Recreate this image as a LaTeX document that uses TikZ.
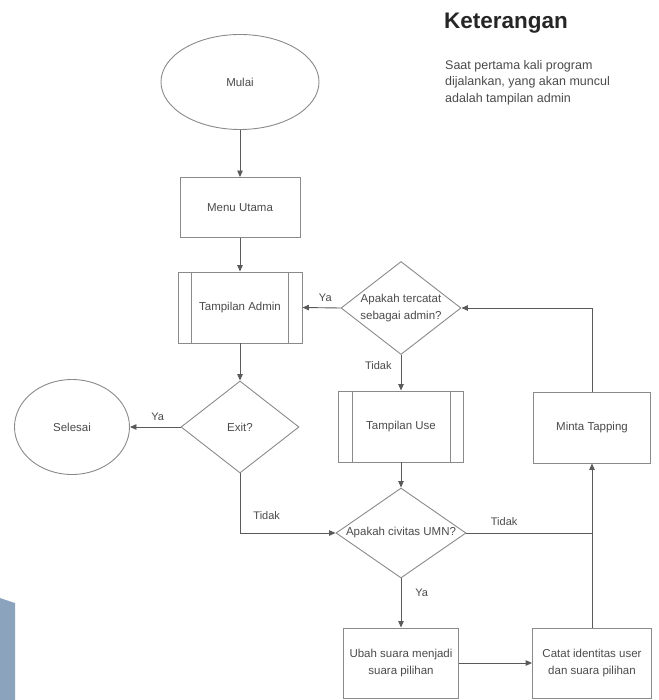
\documentclass[tikz,border=0pt]{standalone}
\usepackage{fontspec}
\setmainfont{Liberation Sans}
\usetikzlibrary{shapes.geometric,arrows.meta,calc}
\definecolor{shapeline}{HTML}{8A8A8A}
\definecolor{arrline}{HTML}{5A5A5A}
\definecolor{txt}{HTML}{4A4A4A}
\definecolor{slideblue}{HTML}{8BA3BC}
\tikzset{
  base/.style={draw=shapeline, line width=0.9pt, align=center, text=txt,
    font=\fontsize{11.5}{16.5}\selectfont, inner sep=1pt},
  proc/.style={base, rectangle, minimum width=#1, minimum height=60pt},
  proc/.default=120pt,
  term/.style={base, ellipse, minimum width=#1, minimum height=95pt},
  dec/.style={base, diamond, inner sep=0pt,
    label={[text=txt, align=center, font=\fontsize{11.5}{16.5}\selectfont, inner sep=0pt]center:#1}},
  arr/.style={draw=arrline, line width=0.9pt, -{Triangle[length=6.5pt,width=5.5pt]}},
  plain/.style={draw=arrline, line width=0.9pt},
  lbl/.style={text=txt, font=\fontsize{11}{12}\selectfont, inner sep=1pt}
}
\begin{document}
\begin{tikzpicture}[x=1pt,y=-1pt]
\useasboundingbox (0,0) rectangle (658,700);
\fill[slideblue] (0,598) -- (15,603) -- (15,700) -- (0,700) -- cycle;

% title
\node[anchor=west, font=\fontsize{22.5}{26}\selectfont\bfseries, text=black!85, inner sep=0] (title) at (444,23) {Keterangan};
\node[anchor=north west, align=left, font=\fontsize{12.5}{16.5}\selectfont, text=txt, inner sep=0] (desc) at (445,60)
  {Saat pertama kali program\\dijalankan, yang akan muncul\\adalah tampilan admin};

% nodes
\node[term=158pt] (mulai) at (240,82) {Mulai};
\node[proc] (menu) at (240,207.5) {Menu Utama};
\node[proc=124pt, minimum height=71pt] (tadmin) at (240,307.5) {Tampilan Admin};
\node[dec={Apakah tercatat\\sebagai admin?}, minimum width=120pt, minimum height=93pt] (adm) at (401,308) {};
\node[dec={Exit?}, minimum width=118pt, minimum height=92pt] (exit) at (240,427) {};
\node[term=115pt] (selesai) at (72,427) {Selesai};
\node[proc=125pt, minimum height=71pt] (tuse) at (401,426.5) {Tampilan Use};
\node[proc=117pt, minimum height=71pt] (minta) at (592,427.5) {Minta Tapping};
\node[dec={Apakah civitas UMN?}, minimum width=130pt, minimum height=90pt] (civ) at (401,533) {};
\node[proc=115pt, minimum height=70pt] (ubah) at (401,663) {Ubah suara menjadi\\suara pilihan};
\node[proc=119pt, minimum height=70pt] (catat) at (592,663) {Catat identitas user\\dan suara pilihan};

% inner lines of predefined processes
\foreach \n in {tadmin,tuse}{
  \draw[shapeline, line width=0.9pt] ($(\n.north west)+(14,0)$) -- ($(\n.south west)+(14,0)$);
  \draw[shapeline, line width=0.9pt] ($(\n.north east)+(-14,0)$) -- ($(\n.south east)+(-14,0)$);
}

% connectors
\draw[arr] (mulai) -- (menu);
\draw[arr] (menu) -- (tadmin);
\draw[arr] (tadmin) -- (exit);
\draw[arr] (exit.west) -- (selesai.east) node[lbl, pos=0.45, anchor=south, yshift=5pt] {Ya};
\draw[arr] (exit.south) |- (civ.west) node[lbl, pos=0.35, anchor=west, xshift=12pt] {Tidak};
\draw[arr] (tuse) -- (civ);
\draw[arr] (civ.south) -- (ubah.north) node[lbl, pos=0.3, anchor=west, xshift=13pt] {Ya};
\draw[arr] (ubah.east) -- (catat.west);
\draw[arr] (catat.north) -- (minta.south);
\coordinate (j) at (minta.south |- civ.east);
\draw[plain] (civ.east) -- (j) node[lbl, pos=0.3, anchor=south, yshift=6pt] {Tidak};
\draw[arr] (minta.north) |- (adm.east);
\draw[arr] (adm.west) -- (tadmin.east) node[lbl, pos=0.4, anchor=south, yshift=5pt] {Ya};
\draw[arr] (adm.south) -- (tuse.north) node[lbl, pos=0.3, anchor=east, xshift=-8pt] {Tidak};
\end{tikzpicture}
\end{document}
